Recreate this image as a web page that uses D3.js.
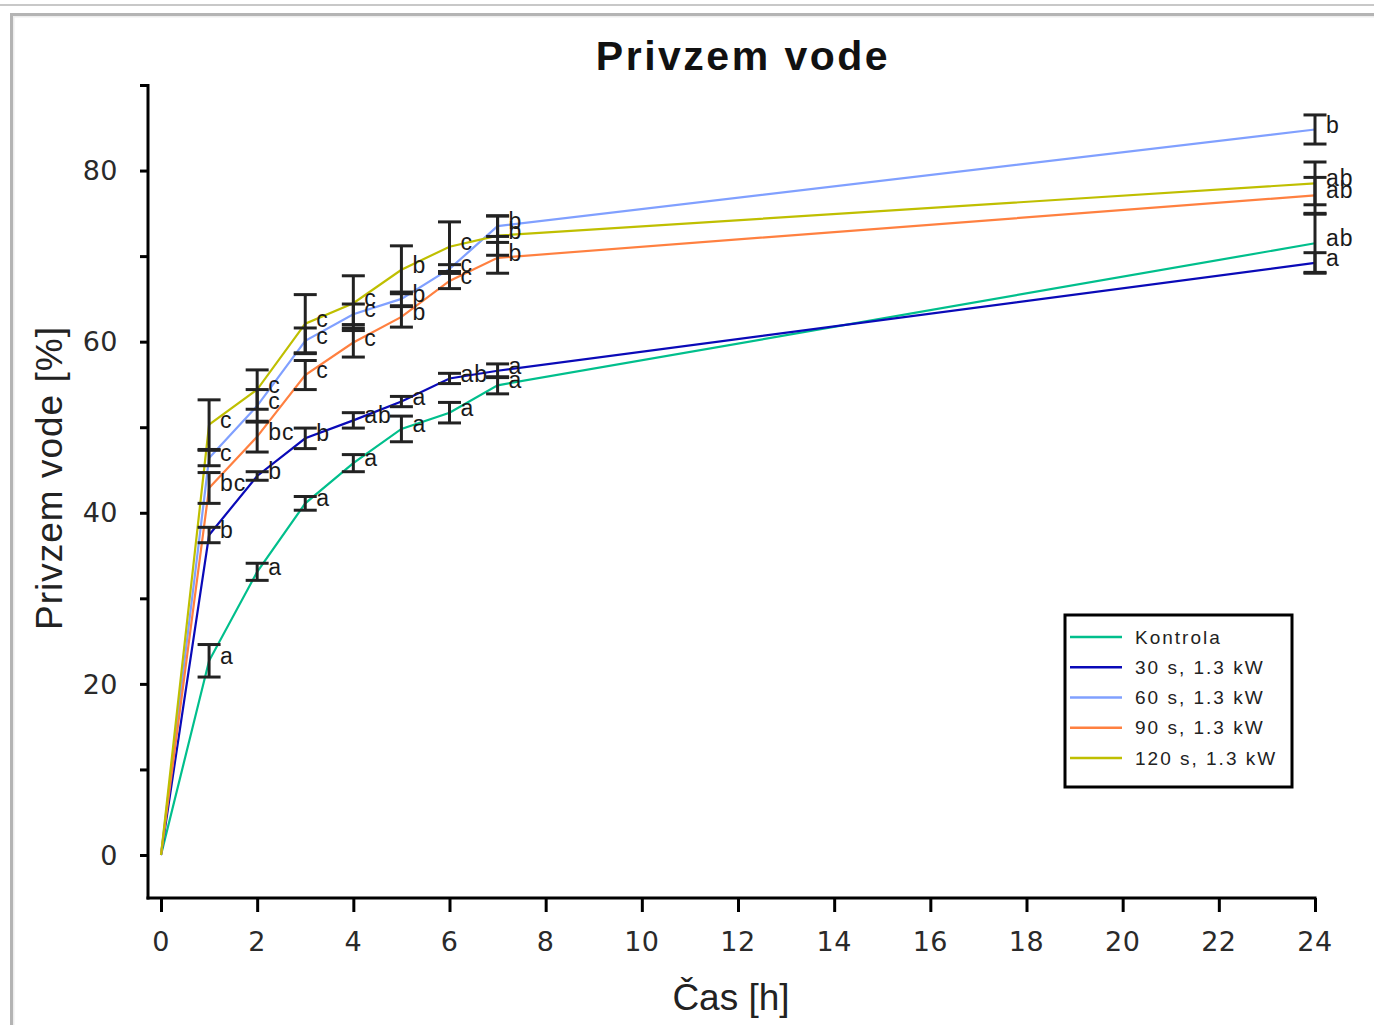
<!DOCTYPE html>
<html><head><meta charset="utf-8">
<script src="https://cdn.jsdelivr.net/npm/d3@7/dist/d3.min.js"></script>
<style>
html,body{margin:0;padding:0;background:#fff;}
svg{display:block;}
</style></head>
<body>
<svg id="c" width="1374" height="1025"></svg>
<script>
// ---- data ----
const times = [0, 1, 2, 3, 4, 5, 6, 7, 24];
const seriesNames = ["Kontrola", "30 s, 1.3 kW", "60 s, 1.3 kW", "90 s, 1.3 kW", "120 s, 1.3 kW"];
const kontrola = [0, 22.7, 33.1, 41.1, 45.8, 49.8, 51.7, 54.9, 71.5];
const s30 = [0, 37.4, 44.3, 48.7, 50.8, 53.0, 55.7, 56.6, 69.2];
const s60 = [0, 46.4, 52.5, 60.1, 63.2, 65.0, 68.5, 73.5, 84.8];
const s90 = [0, 42.9, 48.9, 56.1, 59.9, 62.9, 67.1, 69.8, 77.1];
const s120 = [0, 50.3, 54.4, 62.1, 64.5, 68.4, 71.1, 72.4, 78.5];
const kontrolaSD = [0, 1.9, 1.0, 0.8, 1.0, 1.5, 1.2, 1.0, 3.4];
const s30SD = [0, 0.9, 0.5, 1.2, 0.9, 0.6, 0.6, 0.8, 1.2];
const s60SD = [0, 0.9, 1.9, 1.5, 1.2, 0.8, 0.5, 1.2, 1.7];
const s90SD = [0, 1.8, 1.8, 1.7, 1.7, 1.2, 0.9, 1.8, 2.1];
const s120SD = [0, 2.9, 2.3, 3.4, 3.2, 2.8, 2.9, 2.3, 2.5];
const kontrolaLbl = ["", "a", "a", "a", "a", "a", "a", "a", "ab"];
const s30Lbl = ["", "b", "b", "b", "ab", "a", "ab", "a", "a"];
const s60Lbl = ["", "c", "c", "c", "c", "b", "c", "b", "b"];
const s90Lbl = ["", "bc", "bc", "c", "c", "b", "c", "b", "ab"];
const s120Lbl = ["", "c", "c", "c", "c", "b", "c", "b", "ab"];
const xTicks = [0, 2, 4, 6, 8, 10, 12, 14, 16, 18, 20, 22, 24];
const yTicks = [0, 10, 20, 30, 40, 50, 60, 70, 80, 90];
const yLabels = [0, 20, 40, 60, 80];
const colors = ["#00bf8c", "#0a0ab8", "#80a0ff", "#ff8040", "#bfbf00"];

const series = [
  {name: seriesNames[0], v: kontrola, sd: kontrolaSD, lbl: kontrolaLbl, c: colors[0]},
  {name: seriesNames[1], v: s30, sd: s30SD, lbl: s30Lbl, c: colors[1]},
  {name: seriesNames[2], v: s60, sd: s60SD, lbl: s60Lbl, c: colors[2]},
  {name: seriesNames[3], v: s90, sd: s90SD, lbl: s90Lbl, c: colors[3]},
  {name: seriesNames[4], v: s120, sd: s120SD, lbl: s120Lbl, c: colors[4]}
];

const svg = d3.select("#c");

// page frame
svg.append("line").attr("x1",0).attr("x2",1374).attr("y1",5).attr("y2",5).attr("stroke","#c8c8c8").attr("stroke-width",2);
svg.append("rect").attr("x",13).attr("y",16).attr("width",1400).attr("height",1100).attr("fill","none").attr("stroke","#ededed").attr("stroke-width",3);
svg.append("line").attr("x1",10).attr("x2",1374).attr("y1",14.5).attr("y2",14.5).attr("stroke","#b4b4b4").attr("stroke-width",3);
svg.append("line").attr("x1",11.5).attr("x2",11.5).attr("y1",13).attr("y2",1025).attr("stroke","#b4b4b4").attr("stroke-width",3);

const x = d3.scaleLinear().domain([0, 24]).range([161, 1315]);
const y = d3.scaleLinear().domain([0, 90]).range([855, 85]);
const axX0 = 148, axY0 = 898;

// title
svg.append("text").attr("x", 743).attr("y", 70).attr("text-anchor","middle")
  .attr("font-family","Liberation Sans, Arial, sans-serif").attr("font-weight","bold")
  .attr("font-size", 41).attr("letter-spacing", 2.5).attr("fill","#111").text("Privzem vode");

// axes
const gy = svg.append("g").attr("transform", `translate(${axX0},0)`)
  .call(d3.axisLeft(y).tickValues(yTicks).tickSize(8).tickFormat(""));
gy.select(".domain").remove();
gy.selectAll(".tick line").attr("stroke","#000").attr("stroke-width",3);
svg.append("line").attr("x1",axX0).attr("x2",axX0).attr("y1",84).attr("y2",axY0+1.5).attr("stroke","#000").attr("stroke-width",3);
svg.append("g").selectAll("text").data(yLabels).join("text")
  .attr("x", 118).attr("y", d => y(d)).attr("dy","0.36em").attr("text-anchor","end")
  .attr("font-family","DejaVu Sans, sans-serif").attr("font-size",27).attr("letter-spacing",0.5)
  .attr("fill","#2a2a2a").text(d => d);

const gx = svg.append("g").attr("transform", `translate(0,${axY0})`)
  .call(d3.axisBottom(x).tickValues(xTicks).tickSize(14).tickFormat(""));
gx.select(".domain").remove();
gx.selectAll(".tick line").attr("stroke","#000").attr("stroke-width",3);
svg.append("line").attr("x1",axX0-1.5).attr("x2",x(24)+1.5).attr("y1",axY0).attr("y2",axY0).attr("stroke","#000").attr("stroke-width",3);
svg.append("g").selectAll("text").data(xTicks).join("text")
  .attr("x", d => x(d)).attr("y", 951).attr("text-anchor","middle")
  .attr("font-family","DejaVu Sans, sans-serif").attr("font-size",27).attr("letter-spacing",0.5)
  .attr("fill","#2a2a2a").text(d => d);

// axis titles
svg.append("text").attr("x", 731).attr("y", 1010).attr("text-anchor","middle")
  .attr("font-family","Liberation Sans, Arial, sans-serif").attr("font-size",37)
  .attr("fill","#222").text("Čas [h]");
svg.append("text").attr("transform","translate(62,478) rotate(-90)").attr("text-anchor","middle")
  .attr("font-family","Liberation Sans, Arial, sans-serif").attr("font-size",37).attr("letter-spacing",1)
  .attr("fill","#222").text("Privzem vode [%]");

// lines
const line = d3.line().x((d,i) => x(times[i])).y(d => y(d));
svg.append("g").selectAll("path").data(series).join("path")
  .attr("d", s => line(s.v)).attr("fill","none").attr("stroke", s => s.c).attr("stroke-width",2.2);

// error bars
const eb = svg.append("g").attr("stroke","#222").attr("stroke-width",3);
series.forEach(s => {
  s.v.forEach((v,i) => {
    const sd = s.sd[i];
    if (!sd) return;
    const cx = x(times[i]);
    eb.append("line").attr("x1",cx).attr("x2",cx).attr("y1",y(v+sd)).attr("y2",y(v-sd));
    eb.append("line").attr("x1",cx-11.5).attr("x2",cx+11.5).attr("y1",y(v+sd)).attr("y2",y(v+sd));
    eb.append("line").attr("x1",cx-11.5).attr("x2",cx+11.5).attr("y1",y(v-sd)).attr("y2",y(v-sd));
  });
});

// significance letters
const lg = svg.append("g").attr("font-family","Liberation Sans, Arial, sans-serif")
  .attr("font-size",23).attr("letter-spacing",1).attr("fill","#1a1a1a");
series.forEach(s => {
  s.v.forEach((v,i) => {
    if (!s.lbl[i]) return;
    lg.append("text").attr("x", x(times[i]) + 11).attr("y", y(v) - 5).attr("dy","0.35em").text(s.lbl[i]);
  });
});

// legend
const leg = svg.append("g");
leg.append("rect").attr("x",1065).attr("y",615).attr("width",227).attr("height",172)
  .attr("fill","#fff").attr("stroke","#000").attr("stroke-width",3);
const legY = d3.scalePoint().domain(seriesNames).range([637, 758]);
series.forEach(s => {
  leg.append("line").attr("x1",1070).attr("x2",1122).attr("y1",legY(s.name)).attr("y2",legY(s.name))
    .attr("stroke", s.c).attr("stroke-width",2.5);
  leg.append("text").attr("x",1135).attr("y",legY(s.name)).attr("dy","0.35em")
    .attr("font-family","Liberation Sans, Arial, sans-serif").attr("font-size",19).attr("letter-spacing",2)
    .attr("fill","#222").text(s.name);
});
</script>
</body></html>
